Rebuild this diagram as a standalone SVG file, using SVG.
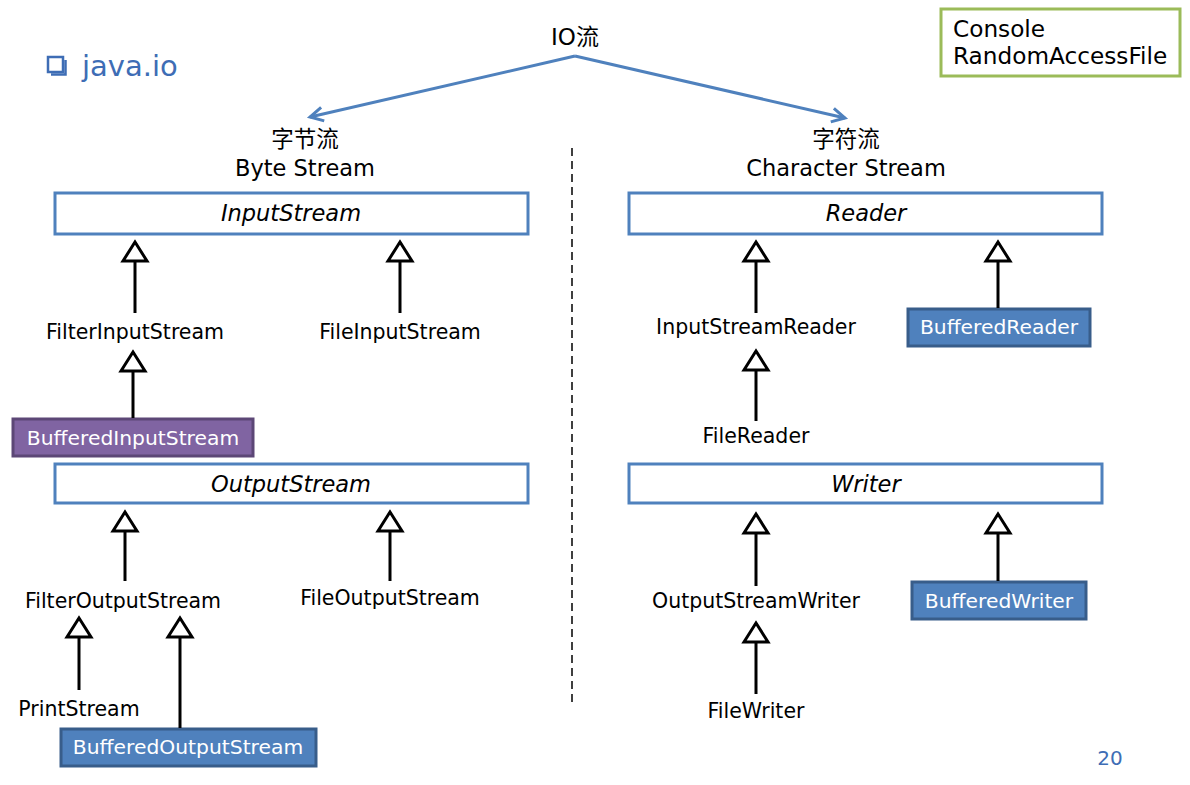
<svg xmlns="http://www.w3.org/2000/svg" width="1190" height="785" viewBox="0 0 1190 785">
<style>
text{font-family:"DejaVu Sans","Noto Sans CJK SC",sans-serif;fill:#000}
.lbl{font-size:20.5px;text-anchor:middle}
.hdr{font-size:22.5px;text-anchor:middle}
.abs{fill:#fff;stroke:#4F81BD;stroke-width:3}
.absT{font-size:22.5px;font-style:italic;text-anchor:middle}
.blue{fill:#4F81BD;stroke:#385D8A;stroke-width:3}
.purple{fill:#8064A2;stroke:#5C4776;stroke-width:3}
.wt{fill:#fff;font-size:20.3px;text-anchor:middle}
.inh{stroke:#000;stroke-width:3;fill:none;marker-end:url(#tri)}
.io{stroke:#4F81BD;stroke-width:3;fill:none;marker-end:url(#chev)}
</style>
<defs>
<marker id="tri" markerUnits="userSpaceOnUse" viewBox="-21 -14 24 28" markerWidth="24" markerHeight="28" refX="0" refY="0" orient="auto" overflow="visible">
<path d="M0,0 L-19,-12 L-19,12 Z" fill="#fff" stroke="#000" stroke-width="3" stroke-linejoin="miter"/>
</marker>
<marker id="chev" markerUnits="userSpaceOnUse" viewBox="-16 -10 18 20" markerWidth="18" markerHeight="20" refX="0" refY="0" orient="auto" overflow="visible">
<path d="M-13,-7 L0,0 L-13,7" fill="none" stroke="#4F81BD" stroke-width="3"/>
</marker>
</defs>

<rect width="1190" height="785" fill="#fff"/>

<g id="title">
<rect x="48" y="57" width="15" height="15" fill="#fff" stroke="#3E6DB5" stroke-width="2.5"/>
<path d="M51,74.5 H65.5 V60" fill="none" stroke="#3E6DB5" stroke-width="2.5"/>
<text x="82" y="76" style="font-size:29px;fill:#3E6DB5">java.io</text>
</g>
<g id="io">
<text x="575" y="45" class="hdr" style="font-size:23px">IO流</text>
</g>
<g id="others">
<rect x="941" y="9" width="239" height="67" fill="#fff" stroke="#9BBB59" stroke-width="3"/>
<text x="953" y="37" style="font-size:23.2px">Console</text>
<text x="953" y="64" style="font-size:23.2px">RandomAccessFile</text>
</g>
<g id="byte-hdr">
<text x="305" y="147" class="hdr">字节流</text>
<text x="305" y="176" class="hdr">Byte Stream</text>
</g>
<g id="char-hdr">
<text x="846" y="147" class="hdr">字符流</text>
<text x="846" y="176" class="hdr">Character Stream</text>
</g>
<g id="divider">
<line x1="572" y1="148" x2="572" y2="706" stroke="#000" stroke-width="1.5" stroke-dasharray="8,5"/>
</g>

<g id="InputStream">
<rect x="55" y="193" width="473" height="41" class="abs"/>
<text x="291" y="221" class="absT">InputStream</text>
</g>
<g id="FilterInputStream"><text x="135" y="339" class="lbl">FilterInputStream</text></g>
<g id="FileInputStream"><text x="400" y="339" class="lbl">FileInputStream</text></g>
<g id="BufferedInputStream">
<rect x="13" y="419" width="240" height="37" class="purple"/>
<text x="133" y="445" class="wt">BufferedInputStream</text>
</g>
<g id="OutputStream">
<rect x="55" y="464" width="473" height="39" class="abs"/>
<text x="291" y="492" class="absT">OutputStream</text>
</g>
<g id="FilterOutputStream"><text x="123" y="608" class="lbl">FilterOutputStream</text></g>
<g id="FileOutputStream"><text x="390" y="605" class="lbl">FileOutputStream</text></g>
<g id="PrintStream"><text x="79" y="716" class="lbl">PrintStream</text></g>
<g id="BufferedOutputStream">
<rect x="61" y="729" width="255" height="37" class="blue"/>
<text x="188" y="754" class="wt">BufferedOutputStream</text>
</g>

<g id="Reader">
<rect x="629" y="193" width="473" height="41" class="abs"/>
<text x="866" y="221" class="absT">Reader</text>
</g>
<g id="InputStreamReader"><text x="756" y="334" class="lbl">InputStreamReader</text></g>
<g id="BufferedReader">
<rect x="908" y="309" width="182" height="37" class="blue"/>
<text x="999" y="334" class="wt">BufferedReader</text>
</g>
<g id="FileReader"><text x="756" y="443" class="lbl">FileReader</text></g>
<g id="Writer">
<rect x="629" y="464" width="473" height="39" class="abs"/>
<text x="866" y="492" class="absT">Writer</text>
</g>
<g id="OutputStreamWriter"><text x="756" y="608" class="lbl">OutputStreamWriter</text></g>
<g id="BufferedWriter">
<rect x="912" y="582" width="174" height="37" class="blue"/>
<text x="999" y="608" class="wt">BufferedWriter</text>
</g>
<g id="FileWriter"><text x="756" y="718" class="lbl">FileWriter</text></g>

<g id="page"><text x="1110" y="765" style="font-size:20px;fill:#3E6DB5;text-anchor:middle">20</text></g>

<g id="connectors">
<line x1="575" y1="56" x2="310" y2="117" class="io"/>
<line x1="575" y1="56" x2="845" y2="118" class="io"/>
<line x1="135" y1="313" x2="135" y2="242" class="inh"/>
<line x1="400" y1="313" x2="400" y2="242" class="inh"/>
<line x1="133" y1="418" x2="133" y2="352" class="inh"/>
<line x1="125" y1="581" x2="125" y2="512" class="inh"/>
<line x1="390" y1="581" x2="390" y2="512" class="inh"/>
<line x1="79" y1="690" x2="79" y2="618" class="inh"/>
<line x1="180" y1="728" x2="180" y2="618" class="inh"/>
<line x1="756" y1="313" x2="756" y2="242" class="inh"/>
<line x1="998" y1="308" x2="998" y2="242" class="inh"/>
<line x1="756" y1="421" x2="756" y2="351" class="inh"/>
<line x1="756" y1="586" x2="756" y2="514" class="inh"/>
<line x1="998" y1="581" x2="998" y2="514" class="inh"/>
<line x1="756" y1="694" x2="756" y2="623" class="inh"/>
</g>
</svg>
